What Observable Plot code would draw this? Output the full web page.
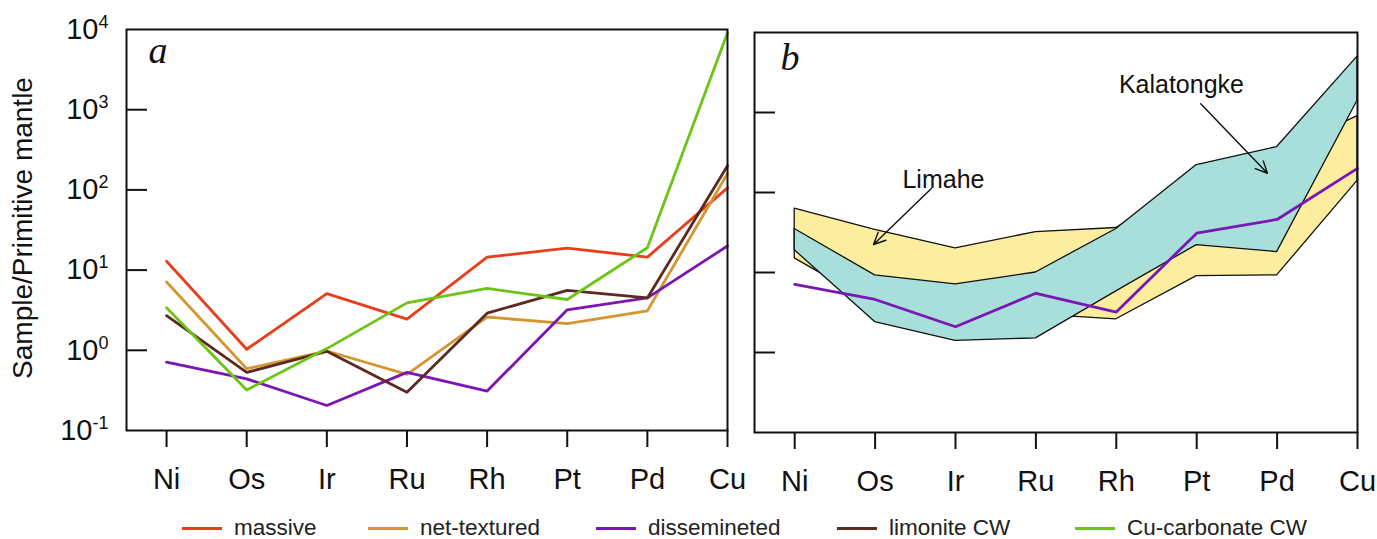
<!DOCTYPE html>
<html>
<head>
<meta charset="utf-8">
<script src="https://cdn.jsdelivr.net/npm/d3@7"></script>
<script src="https://cdn.jsdelivr.net/npm/@observablehq/plot@0.6"></script>
<style>
  html, body { margin: 0; padding: 0; background: #fff; }
  #root { position: relative; width: 1377px; height: 539px; overflow: hidden; font-family: "Liberation Sans", Arial, sans-serif; }
  #panelA { position: absolute; left: 0; top: 0; }
  #panelB { position: absolute; left: 740px; top: 0; }
  #legend { position: absolute; left: 0; top: 518px; width: 1377px; height: 20px; font-size: 22.5px; line-height: 20px; color: #222; }
  .item { position: absolute; top: 0; height: 20px; display: flex; align-items: center; gap: 12px; white-space: nowrap; }
  .sw { display: inline-block; width: 40px; height: 3px; }
</style>
</head>
<body>
<div id="root">
  <div id="panelA"></div>
  <div id="panelB"></div>
  <div id="legend"></div>
</div>
<script>
// ---- data ----
const elements = ["Ni", "Os", "Ir", "Ru", "Rh", "Pt", "Pd", "Cu"];
const seriesNames = ["massive", "net-textured", "dissemineted", "limonite CW", "Cu-carbonate CW"];
const seriesColors = ["#E93D1B", "#D4962F", "#7A16B4", "#5C2A21", "#6CC416"];

// panel a: Sample / Primitive mantle
const massive      = [12.9, 1.03, 5.1, 2.45, 14.5, 18.8, 14.5, 106];
const netTextured  = [7.1, 0.59, 0.98, 0.50, 2.6, 2.15, 3.1, 160];
const disseminated = [0.71, 0.44, 0.205, 0.53, 0.31, 3.2, 4.5, 20];
const limoniteCW   = [2.7, 0.53, 0.97, 0.30, 2.9, 5.6, 4.5, 200];
const cuCarbonateCW = [3.4, 0.32, 1.05, 3.9, 5.9, 4.3, 19, 9100];

// panel b: fields and line
const limaheUpper = [63, 34, 20, 32, 36, 150, 300, 900];
const limaheLower = [15, 4, 3, 3, 2.6, 9, 9.2, 140];
const kalatongkeUpper = [35, 9.2, 7.1, 10, 35, 220, 370, 5000];
const kalatongkeLower = [19, 2.4, 1.4, 1.5, 5.8, 22, 18, 1400];
const panelBLine = [7.1, 4.6, 2.1, 5.5, 3.2, 31, 46, 200];

const yLabelTicks = [0.1, 1, 10, 100, 1000, 10000];
const yInnerTicks = [1, 10, 100, 1000];

// ---- build tables ----
const seriesValues = [massive, netTextured, disseminated, limoniteCW, cuCarbonateCW];
const lineRows = seriesNames.flatMap((s, k) => seriesValues[k].map((v, i) => ({series: s, i, v})));
const limaheRows = elements.map((e, i) => ({i, lo: limaheLower[i], hi: limaheUpper[i]}));
const kalaRows = elements.map((e, i) => ({i, lo: kalatongkeLower[i], hi: kalatongkeUpper[i]}));
const bLineRows = elements.map((e, i) => ({i, v: panelBLine[i]}));
const idx = d3.range(elements.length);

const font = "Liberation Sans, Arial, sans-serif";
const xScale = {type: "linear", domain: [-0.5, elements.length - 1]};
const yScale = {type: "log", domain: [0.1, 10000]};

function xAxis() {
  return Plot.axisX(idx, {tickSize: 17, tickPadding: 21, fontSize: 29, strokeWidth: 2,
    tickFormat: i => elements[i], label: null, fill: "#111"});
}
function innerYTicks() {
  return Plot.axisY(yInnerTicks, {tickSize: 21, dx: 21, strokeWidth: 2, tickFormat: () => "", label: null});
}

// ---- panel a ----
const plotA = Plot.plot({
  width: 740, height: 505,
  marginLeft: 126, marginRight: 13, marginTop: 29, marginBottom: 75,
  x: xScale, y: yScale,
  color: {domain: seriesNames, range: seriesColors},
  style: {fontFamily: font, background: "transparent", overflow: "visible", color: "#111"},
  marks: [
    Plot.line(lineRows, {x: "i", y: "v", z: "series", stroke: "series", strokeWidth: 2.8}),
    Plot.frame({stroke: "#111", strokeWidth: 2}),
    innerYTicks(),
    Plot.axisY(yLabelTicks, {tickSize: 0, tickPadding: 18, fontSize: 29, label: null, fill: "#111",
      tickFormat: d => String(Math.round(Math.log10(d)))}),
    xAxis(),
    Plot.text(["Sample/Primitive mantle"], {frameAnchor: "left", textAnchor: "middle", rotate: -90, dx: -103, dy: -2,
      fontSize: 28, fill: "#111"}),
    Plot.text(["a"], {frameAnchor: "top-left", lineAnchor: "top", textAnchor: "start", dx: 22, dy: 7,
      fontSize: 38, fontStyle: "italic", fontFamily: "Liberation Serif, Times New Roman, serif", fill: "#111"})
  ]
});
// superscript exponents on the y tick labels (skip the empty inner-tick labels)
d3.select(plotA).selectAll('g[aria-label="y-axis tick label"] text').each(function() {
  const e = this.textContent;
  if (!e) return;
  const t = d3.select(this);
  t.text(null);
  t.append("tspan").text("10");
  t.append("tspan").attr("font-size", 18).attr("dy", -11).text(e);
});
document.getElementById("panelA").appendChild(plotA);

// ---- panel b ----
const plotB = Plot.plot({
  width: 637, height: 505,
  marginLeft: 14, marginRight: 20, marginTop: 32, marginBottom: 73,
  x: xScale, y: yScale,
  style: {fontFamily: font, background: "transparent", overflow: "visible", color: "#111"},
  marks: [
    Plot.areaY(limaheRows, {x: "i", y1: "lo", y2: "hi", fill: "#FCEE9E", stroke: "#111", strokeWidth: 1.3}),
    Plot.areaY(kalaRows, {x: "i", y1: "lo", y2: "hi", fill: "#A8DFDB", stroke: "#111", strokeWidth: 1.3}),
    Plot.line(bLineRows, {x: "i", y: "v", stroke: "#7A16B4", strokeWidth: 2.8}),
    Plot.frame({stroke: "#111", strokeWidth: 2}),
    innerYTicks(),
    xAxis(),
    Plot.arrow([0], {x1: () => 1.70, y1: () => 112, x2: () => 0.98, y2: () => 22.4,
      stroke: "#111", strokeWidth: 1.4, headLength: 14, headAngle: 50}),
    Plot.arrow([0], {x1: () => 5.05, y1: () => 1290, x2: () => 5.88, y2: () => 174,
      stroke: "#111", strokeWidth: 1.4, headLength: 14, headAngle: 50}),
    Plot.text(["Limahe"], {x: () => 1.85, y: () => 145, fontSize: 25, fill: "#111"}),
    Plot.text(["Kalatongke"], {x: () => 4.81, y: () => 2180, fontSize: 25, fill: "#111"}),
    Plot.text(["b"], {frameAnchor: "top-left", lineAnchor: "top", textAnchor: "start", dx: 26, dy: 11,
      fontSize: 38, fontStyle: "italic", fontFamily: "Liberation Serif, Times New Roman, serif", fill: "#111"})
  ]
});
document.getElementById("panelB").appendChild(plotB);

// ---- legend ----
const legendLeft = [182, 368, 596, 837, 1075];
const legend = d3.select("#legend");
seriesNames.forEach((s, k) => {
  const it = legend.append("div").attr("class", "item").style("left", legendLeft[k] + "px");
  it.append("span").attr("class", "sw").style("background", seriesColors[k]);
  it.append("span").text(s);
});
</script>
</body>
</html>
